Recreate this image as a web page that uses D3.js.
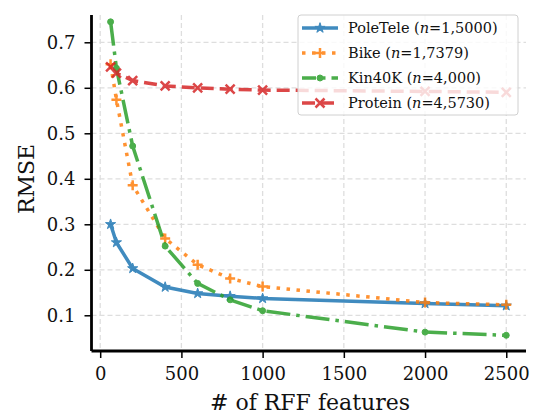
<!DOCTYPE html>
<html>
<head>
<meta charset="utf-8">
<script src="https://cdn.jsdelivr.net/npm/d3@7"></script>
<style>
  body { margin: 0; background: #fff; }
  svg { font-family: "DejaVu Serif", serif; }
</style>
</head>
<body>
<svg width="543" height="414"></svg>
<script>
// data
var features = [64, 100, 200, 400, 600, 800, 1000, 2000, 2500];
var poleTele = [0.300, 0.260, 0.203, 0.162, 0.148, 0.142, 0.137, 0.126, 0.121];
var bike     = [0.652, 0.574, 0.386, 0.269, 0.211, 0.181, 0.163, 0.128, 0.123];
var kin40k   = [0.745, 0.643, 0.472, 0.252, 0.170, 0.134, 0.110, 0.063, 0.056];
var protein  = [0.646, 0.632, 0.616, 0.604, 0.600, 0.597, 0.595, 0.592, 0.590];
var xTicks = [0, 500, 1000, 1500, 2000, 2500];
var yTicks = [0.1, 0.2, 0.3, 0.4, 0.5, 0.6, 0.7];

var series = [
  { name: "PoleTele", n: "1,5000", values: poleTele, color: "#1f77b4", dash: null, marker: "star" },
  { name: "Bike", n: "1,7379", values: bike, color: "#ff7f0e", dash: "3.5,6.5", marker: "plus" },
  { name: "Kin40K", n: "4,000", values: kin40k, color: "#2ca02c", dash: "24,6,3.5,6", marker: "dot" },
  { name: "Protein", n: "4,5730", values: protein, color: "#d62728", dash: "13,6", marker: "x" }
];

var svg = d3.select("svg");
var pLeft = 91.5, pRight = 526, pTop = 15, pBottom = 351;

var x = d3.scaleLinear().domain([-53.5, 2621.5]).range([pLeft, pRight]);
var y = d3.scaleLinear().domain([0.0215, 0.76]).range([pBottom, pTop]);

// grid
var grid = svg.append("g").attr("class", "grid")
  .attr("stroke", "#dedede").attr("stroke-width", 1.3).attr("stroke-dasharray", "5,3");
grid.selectAll(".gx").data(xTicks).enter().append("line")
  .attr("x1", d => x(d)).attr("x2", d => x(d)).attr("y1", pTop).attr("y2", pBottom);
grid.selectAll(".gy").data(yTicks).enter().append("line")
  .attr("x1", pLeft).attr("x2", pRight).attr("y1", d => y(d)).attr("y2", d => y(d));

// marker shapes
function markerPath(type) {
  if (type == "star") return d3.symbol().type(d3.symbolStar).size(32)();
  if (type == "dot") return d3.symbol().type(d3.symbolCircle).size(28)();
  var h = 5;
  if (type == "plus") return "M" + (-h) + ",0H" + h + "M0," + (-h) + "V" + h;
  h = 4.5;
  return "M" + (-h) + "," + (-h) + "L" + h + "," + h + "M" + (-h) + "," + h + "L" + h + "," + (-h);
}

function drawMarker(g, type, color) {
  var p = g.append("path").attr("d", markerPath(type));
  if (type == "plus" || type == "x") {
    p.attr("fill", "none").attr("stroke", color).attr("stroke-width", 2.5);
  } else {
    p.attr("fill", color).attr("stroke", color).attr("stroke-width", 1);
  }
}

var line = d3.line().x((d, i) => x(features[i])).y(d => y(d));

series.forEach(function (s) {
  var g = svg.append("g").attr("opacity", 0.85);
  g.append("path")
    .datum(s.values)
    .attr("d", line)
    .attr("fill", "none")
    .attr("stroke", s.color)
    .attr("stroke-width", 3.5)
    .attr("stroke-dasharray", s.dash);
  s.values.forEach(function (v, i) {
    var m = g.append("g").attr("transform", "translate(" + x(features[i]) + "," + y(v) + ")");
    drawMarker(m, s.marker, s.color);
  });
});

// axes
var xAxis = svg.append("g").attr("transform", "translate(0," + pBottom + ")")
  .call(d3.axisBottom(x).tickValues(xTicks).tickSize(7).tickPadding(9).tickFormat(d3.format("d")));
var yAxis = svg.append("g").attr("transform", "translate(" + pLeft + ",0)")
  .call(d3.axisLeft(y).tickValues(yTicks).tickSize(7).tickPadding(9).tickFormat(d3.format(".1f")));

[xAxis, yAxis].forEach(function (a) {
  a.select(".domain").attr("stroke", "#000").attr("stroke-width", 2.8);
  a.selectAll(".tick line").attr("stroke", "#000").attr("stroke-width", 1.5);
  a.selectAll(".tick text").attr("font-family", "DejaVu Serif").attr("font-size", 18).attr("fill", "#111");
});
xAxis.select(".domain").attr("d", "M" + pLeft + ",0H" + pRight);
yAxis.select(".domain").attr("d", "M0," + pBottom + "V" + pTop);

svg.append("text")
  .attr("x", 310).attr("y", 410)
  .attr("text-anchor", "middle").attr("font-size", 22).attr("fill", "#111")
  .text("# of RFF features");
svg.append("text")
  .attr("transform", "translate(34,179) rotate(-90)")
  .attr("text-anchor", "middle").attr("font-size", 22).attr("fill", "#111")
  .text("RMSE");

// legend
var legend = svg.append("g").attr("transform", "translate(298,15)");
legend.append("rect")
  .attr("width", 220).attr("height", 100).attr("rx", 3)
  .attr("fill", "#fff").attr("fill-opacity", 0.8)
  .attr("stroke", "#d0d0d0").attr("stroke-width", 1);

series.forEach(function (s, i) {
  var row = legend.append("g").attr("transform", "translate(0," + (13 + i * 25) + ")");
  var g = row.append("g").attr("opacity", 0.85);
  g.append("line")
    .attr("x1", 4).attr("x2", 40).attr("y1", 0).attr("y2", 0)
    .attr("stroke", s.color).attr("stroke-width", 3.5)
    .attr("stroke-dasharray", s.dash == "24,6,3.5,6" ? "14,6,3.5,6" : s.dash);
  var m = g.append("g").attr("transform", "translate(22,0)");
  drawMarker(m, s.marker, s.color);
  var t = row.append("text").attr("x", 50).attr("y", 5).attr("font-size", 14.5).attr("fill", "#111");
  t.append("tspan").text(s.name + " (");
  t.append("tspan").attr("font-style", "italic").text("n");
  t.append("tspan").text("=" + s.n + ")");
});
</script>
</body>
</html>
